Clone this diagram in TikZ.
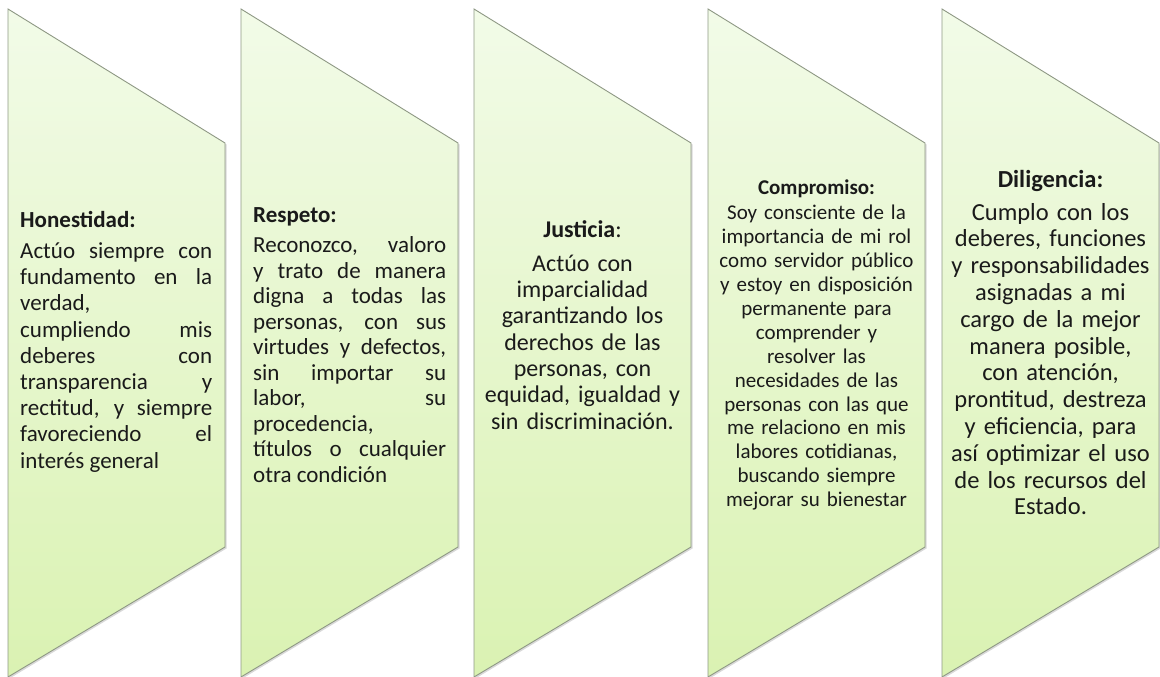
\documentclass[tikz,border=0pt]{standalone}
\usepackage{fontspec}
\setmainfont{Carlito}
\usetikzlibrary{positioning, shadows}

\definecolor{boxtop}{HTML}{F2FBE8}
\definecolor{boxbot}{HTML}{DAF2B2}
\definecolor{boxline}{HTML}{8E9884}
\definecolor{inktext}{HTML}{1A1A1A}

\tikzset{
  valuebox/.style={draw=boxline, line width=0.9pt, top color=boxtop, bottom color=boxbot,
    drop shadow={shadow xshift=1.5pt, shadow yshift=-1.5pt, opacity=0.3}},
  valuetext/.style={inner sep=0pt, text=inktext},
}

\begin{document}
\begin{tikzpicture}[x=1pt, y=-1pt]
  \useasboundingbox (0,0) rectangle (1160,677);

  % the five slanted panels
  \draw[valuebox] (8,9) -- (225,143) -- (225,547) -- (8,677) -- cycle;
  \draw[valuebox] (241,9) -- (458,143) -- (458,547) -- (241,677) -- cycle;
  \draw[valuebox] (474,9) -- (691,143) -- (691,547) -- (474,677) -- cycle;
  \draw[valuebox] (708,9) -- (925,143) -- (925,547) -- (708,677) -- cycle;
  \draw[valuebox] (942,9) -- (1159,143) -- (1159,547) -- (942,677) -- cycle;

  % texts
  \node[valuetext, anchor=north west, text width=192pt, align=justify,
        font=\fontsize{23}{26.2}\selectfont] (honestidad) at (20,211)
    {\textbf{Honestidad:}\par\vspace{5pt}
     Actúo siempre con\linebreak fundamento en la\linebreak verdad,\hfill\break
     cumpliendo mis\linebreak deberes con\linebreak transparencia y\linebreak
     rectitud, y siempre\linebreak favoreciendo el\linebreak interés general};

  \node[valuetext, anchor=north west, text width=193pt, align=justify,
        font=\fontsize{23}{25.5}\selectfont] (respeto) at (253,207)
    {\textbf{Respeto:}\par\vspace{5pt}
     Reconozco, valoro\linebreak y trato de manera\linebreak digna a todas las\linebreak
     personas, con sus\linebreak virtudes y defectos,\linebreak sin importar su\linebreak
     labor, su\linebreak procedencia,\hfill\break títulos o cualquier\linebreak otra condición};

  \node[valuetext, anchor=north, text width=210pt, align=center,
        font=\fontsize{24}{26.3}\selectfont] (justicia) at (582.5,220)
    {\textbf{Justicia}:\par\vspace{8pt}
     Actúo con\\ imparcialidad\\ garantizando los\\ derechos de las\\
     personas, con\\ equidad, igualdad y\\ sin discriminación.};

  \node[valuetext, anchor=north, text width=212pt, align=center,
        font=\fontsize{21}{23.9}\selectfont] (compromiso) at (816.5,180)
    {\textbf{Compromiso:}\par\vspace{1pt}
     Soy consciente de la\\ importancia de mi rol\\ como servidor público\\
     y estoy en disposición\\ permanente para\\ comprender y\\ resolver las\\
     necesidades de las\\ personas con las que\\ me relaciono en mis\\
     labores cotidianas,\\ buscando siempre\\ mejorar su bienestar};

  \node[valuetext, anchor=north, text width=214pt, align=center,
        font=\fontsize{24.5}{26.8}\selectfont] (diligencia) at (1050.5,170)
    {\textbf{Diligencia:}\par\vspace{6pt}
     Cumplo con los\\ deberes, funciones\\ y responsabilidades\\ asignadas a mi\\
     cargo de la mejor\\ manera posible,\\ con atención,\\ prontitud, destreza\\
     y eficiencia, para\\ así optimizar el uso\\ de los recursos del\\ Estado.};
\end{tikzpicture}
\end{document}
